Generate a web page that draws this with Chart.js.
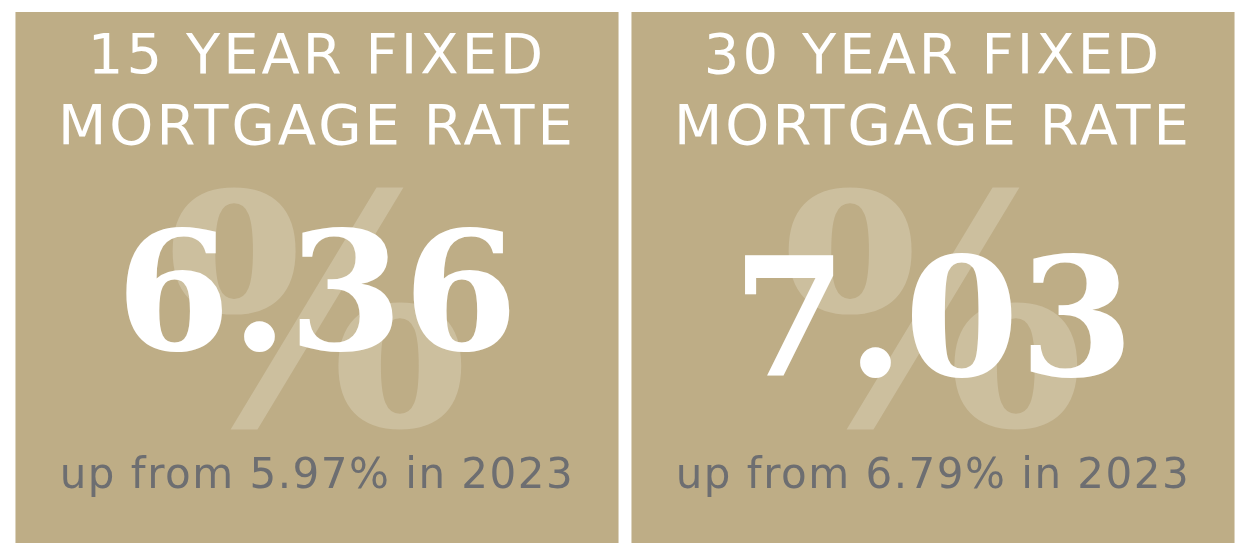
<!DOCTYPE html>
<html><head><meta charset="utf-8">
<script src="https://cdn.jsdelivr.net/npm/chart.js@4/dist/chart.umd.min.js"></script>
<style>html,body{margin:0;background:#fff}#wrap{width:1250px;height:556px}</style>
</head><body><div id="wrap"><canvas id="c"></canvas></div>
<script>
// Panel data
const titles = [["15 YEAR FIXED", "MORTGAGE RATE"], ["30 YEAR FIXED", "MORTGAGE RATE"]];
const rates = [6.36, 7.03];
const previous = [5.97, 6.79];
const prevYear = "2023";
const rateBaseline = [350, 376];   // baseline for the big number in each panel

// draw the text on top of each box
const panelText = {
  id: "panelText",
  afterDatasetsDraw(chart) {
    const ctx = chart.ctx;
    const meta = chart.getDatasetMeta(0);
    meta.data.forEach((bar, i) => {
      const x = bar.x;
      ctx.save();
      ctx.textAlign = "center";
      ctx.textBaseline = "alphabetic";
      // big faded percent sign
      ctx.fillStyle = "rgba(225,218,195,0.4)";
      ctx.font = "bold 320px 'DejaVu Serif'";
      ctx.fillText("%", x, 425);
      // title
      ctx.fillStyle = "#ffffff";
      ctx.font = "56px 'DejaVu Sans'";
      ctx.letterSpacing = "3px";
      ctx.fillText(titles[i][0], x, 73);
      ctx.fillText(titles[i][1], x, 144);
      // rate
      ctx.letterSpacing = "0px";
      ctx.font = "bold 165px 'DejaVu Serif'";
      ctx.fillText(rates[i].toFixed(2), x, rateBaseline[i]);
      // subtitle
      ctx.fillStyle = "#6d6e71";
      ctx.font = "42px 'DejaVu Sans'";
      ctx.letterSpacing = "1.5px";
      ctx.fillText("up from " + previous[i].toFixed(2) + "% in " + prevYear, x, 488);
      ctx.restore();
    });
  }
};

new Chart(document.getElementById("c"), {
  type: "bar",
  data: {
    labels: ["15", "30"],
    datasets: [{ data: [1, 1], backgroundColor: "#bead86", borderWidth: 0,
                 barPercentage: 0.979, categoryPercentage: 1 }]
  },
  options: {
    responsive: true, maintainAspectRatio: false, animation: false,
    layout: { padding: { left: 9, right: 9, top: 12, bottom: 13 } },
    plugins: { legend: { display: false }, tooltip: { enabled: false } },
    scales: {
      x: { display: false },
      y: { display: false, min: 0, max: 1 }
    }
  },
  plugins: [panelText]
});
</script></body></html>
